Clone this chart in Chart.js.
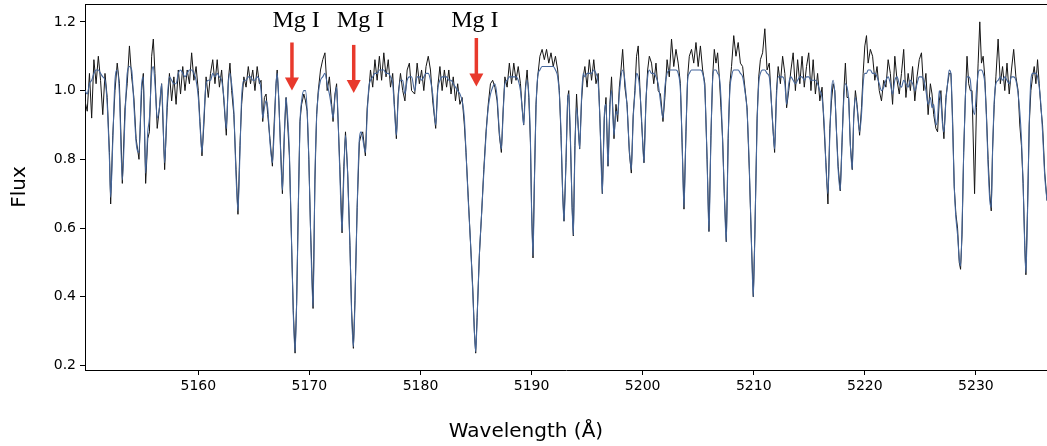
<!DOCTYPE html>
<html>
<head>
<meta charset="utf-8">
<script src="https://cdn.jsdelivr.net/npm/chart.js@4.4.1/dist/chart.umd.min.js"></script>
<style>
    html, body { margin: 0; padding: 0; background: #ffffff; }
    canvas { display: block; }
</style>
</head>
<body>
<canvas id="spectrumChart" width="1047" height="446"></canvas>
<script>
// wavelength samples (Å)
const wavelength = [
    5149.8, 5150.0, 5150.2, 5150.4, 5150.6, 5150.8, 5151.0, 5151.2, 5151.4, 5151.6,
    5151.8, 5152.0, 5152.11, 5152.3, 5152.5, 5152.7, 5152.9, 5153.16, 5153.4, 5153.6,
    5153.8, 5154.0, 5154.2, 5154.4, 5154.66, 5154.9, 5155.05, 5155.26, 5155.45, 5155.6,
    5155.8, 5155.95, 5156.1, 5156.3, 5156.5, 5156.7, 5156.97, 5157.2, 5157.4, 5157.6,
    5157.8, 5158.0, 5158.2, 5158.4, 5158.6, 5158.8, 5159.0, 5159.2, 5159.4, 5159.6,
    5159.8, 5160.0, 5160.15, 5160.33, 5160.5, 5160.7, 5160.9, 5161.1, 5161.3, 5161.5,
    5161.7, 5161.9, 5162.1, 5162.3, 5162.52, 5162.7, 5162.85, 5163.0, 5163.2, 5163.4,
    5163.57, 5163.75, 5163.9, 5164.1, 5164.3, 5164.5, 5164.7, 5164.9, 5165.1, 5165.3,
    5165.5, 5165.65, 5165.8, 5165.95, 5166.1, 5166.25, 5166.45, 5166.67, 5166.85, 5167.0,
    5167.1, 5167.25, 5167.4, 5167.57, 5167.75, 5167.9, 5168.05, 5168.2, 5168.4, 5168.55,
    5168.71, 5168.85, 5169.0, 5169.15, 5169.3, 5169.5, 5169.65, 5169.8, 5169.95, 5170.1,
    5170.33, 5170.5, 5170.65, 5170.8, 5171.0, 5171.2, 5171.4, 5171.6, 5171.8, 5172.0,
    5172.13, 5172.3, 5172.45, 5172.6, 5172.75, 5172.94, 5173.1, 5173.25, 5173.45, 5173.65,
    5173.8, 5173.96, 5174.1, 5174.3, 5174.5, 5174.65, 5174.8, 5175.04, 5175.2, 5175.35,
    5175.5, 5175.7, 5175.9, 5176.1, 5176.3, 5176.5, 5176.7, 5176.9, 5177.1, 5177.3,
    5177.5, 5177.65, 5177.83, 5178.0, 5178.2, 5178.4, 5178.6, 5178.8, 5179.0, 5179.2,
    5179.48, 5179.7, 5179.9, 5180.1, 5180.3, 5180.5, 5180.7, 5180.9, 5181.1, 5181.37,
    5181.55, 5181.75, 5181.95, 5182.15, 5182.35, 5182.55, 5182.75, 5182.95, 5183.15, 5183.35,
    5183.55, 5183.75, 5183.95, 5184.1, 5184.3, 5184.5, 5184.7, 5184.85, 5184.97, 5185.1,
    5185.3, 5185.5, 5185.7, 5185.9, 5186.1, 5186.3, 5186.5, 5186.7, 5186.9, 5187.1,
    5187.28, 5187.45, 5187.6, 5187.8, 5188.0, 5188.2, 5188.4, 5188.6, 5188.8, 5189.0,
    5189.15, 5189.29, 5189.45, 5189.6, 5189.75, 5189.9, 5190.0, 5190.13, 5190.25, 5190.4,
    5190.55, 5190.75, 5190.95, 5191.15, 5191.35, 5191.55, 5191.75, 5191.95, 5192.15, 5192.35,
    5192.5, 5192.65, 5192.8, 5192.92, 5193.1, 5193.25, 5193.35, 5193.5, 5193.65, 5193.76,
    5193.9, 5194.05, 5194.2, 5194.33, 5194.5, 5194.65, 5194.8, 5195.0, 5195.2, 5195.4,
    5195.6, 5195.8, 5196.0, 5196.15, 5196.37, 5196.55, 5196.7, 5196.88, 5197.05, 5197.2,
    5197.42, 5197.6, 5197.75, 5197.9, 5198.05, 5198.2, 5198.4, 5198.6, 5198.8, 5198.98,
    5199.15, 5199.3, 5199.45, 5199.6, 5199.75, 5199.9, 5200.12, 5200.3, 5200.45, 5200.6,
    5200.8, 5201.0, 5201.2, 5201.4, 5201.6, 5201.83, 5202.0, 5202.2, 5202.4, 5202.6,
    5202.8, 5203.0, 5203.2, 5203.4, 5203.55, 5203.72, 5203.9, 5204.05, 5204.2, 5204.4,
    5204.6, 5204.8, 5205.0, 5205.2, 5205.4, 5205.6, 5205.8, 5205.97, 5206.15, 5206.3,
    5206.45, 5206.6, 5206.75, 5206.9, 5207.05, 5207.2, 5207.35, 5207.53, 5207.7, 5207.85,
    5208.0, 5208.2, 5208.4, 5208.6, 5208.8, 5209.0, 5209.2, 5209.4, 5209.6, 5209.8,
    5209.96, 5210.1, 5210.3, 5210.45, 5210.6, 5210.8, 5211.0, 5211.2, 5211.4, 5211.6,
    5211.75, 5211.88, 5212.05, 5212.2, 5212.4, 5212.6, 5212.8, 5212.96, 5213.15, 5213.35,
    5213.55, 5213.75, 5213.95, 5214.15, 5214.35, 5214.55, 5214.75, 5214.95, 5215.15, 5215.35,
    5215.55, 5215.75, 5215.95, 5216.15, 5216.35, 5216.5, 5216.68, 5216.85, 5217.0, 5217.15,
    5217.3, 5217.45, 5217.6, 5217.79, 5217.95, 5218.1, 5218.25, 5218.4, 5218.55, 5218.7,
    5218.87, 5219.0, 5219.15, 5219.3, 5219.53, 5219.7, 5219.85, 5220.0, 5220.15, 5220.3,
    5220.5, 5220.7, 5220.9, 5221.1, 5221.3, 5221.5, 5221.7, 5221.9, 5222.1, 5222.3,
    5222.5, 5222.7, 5222.9, 5223.1, 5223.3, 5223.5, 5223.7, 5223.9, 5224.1, 5224.3,
    5224.5, 5224.7, 5224.9, 5225.1, 5225.3, 5225.5, 5225.7, 5225.9, 5226.05, 5226.2,
    5226.4, 5226.55, 5226.7, 5226.85, 5227.0, 5227.12, 5227.3, 5227.45, 5227.6, 5227.75,
    5227.9, 5228.05, 5228.2, 5228.35, 5228.5, 5228.62, 5228.75, 5228.9, 5229.05, 5229.2,
    5229.35, 5229.5, 5229.65, 5229.88, 5230.05, 5230.2, 5230.35, 5230.5, 5230.65, 5230.8,
    5230.95, 5231.1, 5231.25, 5231.38, 5231.5, 5231.65, 5231.8, 5232.0, 5232.2, 5232.4,
    5232.6, 5232.8, 5233.0, 5233.2, 5233.4, 5233.6, 5233.8, 5233.95, 5234.1, 5234.25,
    5234.4, 5234.5, 5234.65, 5234.8, 5234.95, 5235.1, 5235.25, 5235.4, 5235.55, 5235.7,
    5235.85, 5236.0, 5236.2, 5236.4
];

// fitted model (blue)
const fluxModel = [
    1.00, 0.99, 1.02, 1.03, 1.05, 1.06, 1.06, 1.05, 1.04, 1.03,
    0.96, 0.80, 0.69, 0.85, 1.03, 1.06, 0.99, 0.74, 0.92, 1.05,
    1.07, 1.06, 0.96, 0.85, 0.82, 1.02, 1.04, 0.76, 0.88, 0.92,
    1.05, 1.07, 1.02, 0.92, 0.95, 1.02, 0.79, 0.97, 1.04, 1.03,
    1.02, 1.02, 1.05, 1.06, 1.05, 1.04, 1.05, 1.06, 1.06, 1.05,
    1.03, 0.98, 0.90, 0.82, 0.92, 1.02, 1.03, 1.03, 1.05, 1.04,
    1.05, 1.04, 1.03, 0.98, 0.89, 1.02, 1.05, 1.02, 0.94, 0.75,
    0.65, 0.82, 0.98, 1.03, 1.03, 1.04, 1.04, 1.03, 1.03, 1.04,
    1.03, 1.00, 0.92, 0.95, 0.97, 0.95, 0.85, 0.79, 0.90, 1.02,
    1.05, 0.97, 0.83, 0.71, 0.87, 0.98, 0.92, 0.82, 0.55, 0.35,
    0.24, 0.38, 0.65, 0.90, 0.97, 1.00, 1.00, 0.94, 0.80, 0.60,
    0.37, 0.75, 0.92, 0.99, 1.03, 1.04, 1.05, 1.02, 0.99, 0.95,
    0.92, 0.98, 1.01, 0.90, 0.75, 0.59, 0.75, 0.87, 0.75, 0.55,
    0.35, 0.255, 0.38, 0.66, 0.86, 0.88, 0.86, 0.82, 0.93, 1.01,
    1.03, 1.04, 1.05, 1.05, 1.06, 1.06, 1.06, 1.05, 1.05, 1.04,
    1.02, 0.95, 0.87, 0.98, 1.03, 1.03, 0.99, 1.03, 1.04, 1.04,
    1.00, 1.04, 1.04, 1.03, 1.04, 1.05, 1.05, 1.03, 0.99, 0.90,
    1.00, 1.03, 1.04, 1.04, 1.04, 1.03, 1.03, 1.02, 1.01, 1.00,
    0.99, 0.97, 0.92, 0.82, 0.68, 0.56, 0.42, 0.30, 0.24, 0.34,
    0.52, 0.64, 0.76, 0.87, 0.95, 0.99, 1.01, 1.02, 0.98, 0.88,
    0.83, 0.94, 1.02, 1.03, 1.04, 1.04, 1.04, 1.04, 1.03, 1.00,
    0.95, 0.90, 1.00, 1.03, 0.99, 0.85, 0.65, 0.52, 0.72, 0.95,
    1.04, 1.06, 1.07, 1.07, 1.07, 1.07, 1.07, 1.07, 1.06, 1.04,
    0.99, 0.88, 0.70, 0.62, 0.80, 0.97, 0.99, 0.86, 0.66, 0.58,
    0.82, 0.95, 0.90, 0.83, 0.98, 1.05, 1.04, 1.05, 1.05, 1.05,
    1.06, 1.05, 1.02, 0.92, 0.70, 0.93, 0.96, 0.78, 0.95, 1.00,
    0.87, 0.94, 0.93, 0.99, 1.04, 1.06, 1.03, 0.95, 0.83, 0.77,
    0.92, 0.99, 1.05, 1.04, 1.00, 0.92, 0.79, 0.97, 1.04, 1.06,
    1.05, 1.05, 1.04, 1.02, 0.97, 0.92, 1.01, 1.05, 1.06, 1.06,
    1.06, 1.06, 1.05, 1.00, 0.85, 0.66, 0.88, 1.03, 1.05, 1.06,
    1.06, 1.06, 1.06, 1.06, 1.05, 1.00, 0.80, 0.59, 0.87, 1.03,
    1.06, 1.06, 1.05, 1.04, 0.98, 0.85, 0.70, 0.56, 0.86, 1.00,
    1.04, 1.06, 1.06, 1.06, 1.05, 1.04, 1.00, 0.94, 0.78, 0.55,
    0.40, 0.58, 0.90, 1.02, 1.05, 1.06, 1.06, 1.05, 1.04, 0.96,
    0.88, 0.83, 0.98, 1.04, 1.04, 1.04, 1.02, 0.96, 1.02, 1.04,
    1.03, 1.02, 1.03, 1.04, 1.04, 1.03, 1.04, 1.04, 1.03, 1.03,
    1.03, 1.02, 1.00, 0.98, 0.90, 0.78, 0.70, 0.87, 1.00, 1.03,
    0.99, 0.88, 0.77, 0.71, 0.85, 0.97, 1.02, 1.01, 0.97, 0.84,
    0.77, 0.92, 0.98, 0.95, 0.88, 0.93, 1.02, 1.05, 1.05, 1.06,
    1.06, 1.05, 1.05, 1.04, 1.02, 1.00, 1.01, 1.03, 1.04, 1.02,
    0.99, 1.03, 1.04, 1.02, 1.01, 1.03, 1.02, 1.01, 1.03, 1.02,
    1.00, 1.02, 1.04, 1.04, 1.03, 1.00, 0.96, 0.98, 0.95, 0.96,
    0.90, 0.92, 1.00, 0.97, 0.90, 0.88, 0.97, 1.02, 1.06, 1.05,
    0.90, 0.72, 0.63, 0.58, 0.51, 0.49, 0.60, 0.82, 0.98, 1.04,
    1.04, 1.03, 0.97, 0.93, 1.00, 1.05, 1.06, 1.06, 1.05, 1.02,
    0.92, 0.78, 0.68, 0.66, 0.82, 0.97, 1.02, 1.03, 1.04, 1.03,
    1.04, 1.03, 1.02, 1.04, 1.04, 1.03, 0.99, 0.94, 0.86, 0.73,
    0.54, 0.47, 0.65, 0.90, 1.03, 1.05, 1.05, 1.05, 1.04, 1.01,
    0.96, 0.88, 0.75, 0.68
];

// observed spectrum (black)
const fluxObserved = [
    0.97, 0.94, 1.05, 0.92, 1.09, 1.02, 1.10, 1.03, 0.93, 1.05,
    0.98, 0.82, 0.67, 0.87, 1.00, 1.08, 1.02, 0.73, 0.95, 1.02,
    1.13, 1.04, 0.98, 0.86, 0.80, 1.00, 1.05, 0.73, 0.86, 0.88,
    1.10, 1.15, 1.05, 0.89, 0.95, 1.02, 0.77, 0.95, 1.05, 0.97,
    1.04, 0.96, 1.06, 0.99, 1.07, 1.00, 1.06, 1.02, 1.11, 1.03,
    1.07, 1.00, 0.91, 0.81, 0.90, 1.04, 0.98, 1.05, 1.09, 1.02,
    1.09, 1.01, 1.06, 0.97, 0.87, 1.03, 1.08, 1.00, 0.93, 0.77,
    0.64, 0.84, 0.96, 1.04, 1.01, 1.07, 1.02, 1.06, 1.00, 1.07,
    1.02, 1.03, 0.91, 0.98, 0.99, 0.93, 0.86, 0.78, 0.92, 1.02,
    1.06, 0.97, 0.84, 0.70, 0.88, 0.98, 0.90, 0.81, 0.55, 0.36,
    0.236, 0.38, 0.66, 0.91, 0.96, 0.99, 0.97, 0.94, 0.80, 0.60,
    0.366, 0.74, 0.93, 1.00, 1.06, 1.09, 1.11, 1.00, 1.04, 0.96,
    0.91, 0.99, 1.02, 0.90, 0.77, 0.586, 0.78, 0.88, 0.76, 0.55,
    0.36, 0.25, 0.39, 0.66, 0.85, 0.87, 0.88, 0.81, 0.95, 1.00,
    1.06, 1.01, 1.09, 1.03, 1.10, 1.03, 1.11, 1.04, 1.09, 1.01,
    1.05, 0.96, 0.86, 0.99, 1.05, 1.00, 0.97, 1.06, 1.08, 1.00,
    0.99, 1.08, 1.02, 1.06, 1.00, 1.07, 1.10, 1.06, 0.97, 0.89,
    1.01, 1.07, 1.00, 1.06, 1.01, 1.06, 0.99, 1.04, 0.97, 1.02,
    0.96, 0.98, 0.90, 0.82, 0.69, 0.56, 0.43, 0.30, 0.236, 0.34,
    0.52, 0.64, 0.77, 0.88, 0.96, 1.02, 1.03, 1.01, 0.97, 0.87,
    0.82, 0.95, 1.04, 1.01, 1.08, 1.02, 1.08, 1.03, 1.07, 1.02,
    0.95, 0.90, 1.01, 1.06, 0.98, 0.85, 0.66, 0.513, 0.73, 0.96,
    1.04, 1.10, 1.12, 1.09, 1.12, 1.08, 1.11, 1.07, 1.10, 1.06,
    1.00, 0.87, 0.70, 0.62, 0.79, 0.98, 1.00, 0.85, 0.66, 0.577,
    0.84, 0.99, 0.89, 0.83, 0.97, 1.04, 1.07, 1.01, 1.09, 1.03,
    1.09, 1.02, 1.05, 0.92, 0.70, 0.92, 0.98, 0.78, 0.96, 1.04,
    0.86, 0.96, 0.91, 1.01, 1.06, 1.12, 1.01, 0.96, 0.82, 0.76,
    0.93, 1.00, 1.10, 1.13, 1.01, 0.91, 0.79, 0.97, 1.06, 1.10,
    1.08, 1.02, 1.08, 1.00, 0.99, 0.91, 0.98, 1.09, 1.04, 1.15,
    1.07, 1.12, 1.08, 1.02, 0.85, 0.655, 0.88, 1.04, 1.10, 1.12,
    1.08, 1.14, 1.07, 1.13, 1.06, 1.02, 0.80, 0.59, 0.87, 1.04,
    1.12, 1.08, 1.11, 1.04, 0.95, 0.86, 0.70, 0.56, 0.86, 1.02,
    1.07, 1.16, 1.10, 1.14, 1.08, 1.07, 1.01, 0.95, 0.77, 0.55,
    0.40, 0.58, 0.92, 1.04, 1.09, 1.11, 1.18, 1.06, 1.08, 0.96,
    0.88, 0.82, 1.00, 1.07, 1.02, 1.10, 1.05, 0.95, 1.00, 1.06,
    1.11, 1.00, 1.09, 1.02, 1.10, 1.01, 1.07, 1.11, 1.00, 1.09,
    0.99, 1.05, 0.97, 1.01, 0.88, 0.79, 0.67, 0.89, 0.97, 1.02,
    1.00, 0.88, 0.78, 0.708, 0.85, 0.99, 1.08, 0.98, 0.98, 0.84,
    0.77, 0.92, 1.00, 0.96, 0.87, 0.95, 1.05, 1.13, 1.16, 1.08,
    1.12, 1.10, 1.03, 1.07, 1.00, 0.97, 1.03, 1.01, 1.09, 1.05,
    0.96, 1.10, 1.03, 0.99, 1.05, 1.12, 0.98, 1.05, 1.00, 1.07,
    0.97, 1.04, 1.09, 1.11, 1.00, 1.05, 0.93, 1.02, 0.99, 0.93,
    0.89, 0.88, 0.97, 1.00, 0.91, 0.86, 0.98, 1.02, 1.05, 1.05,
    0.92, 0.72, 0.64, 0.60, 0.50, 0.48, 0.58, 0.82, 0.98, 1.10,
    1.02, 1.00, 1.00, 0.70, 0.95, 1.08, 1.20, 1.08, 1.10, 1.04,
    0.93, 0.80, 0.70, 0.65, 0.83, 0.96, 1.04, 1.15, 1.02, 1.07,
    1.00, 1.08, 0.99, 1.06, 1.12, 1.04, 1.00, 0.90, 0.84, 0.73,
    0.55, 0.464, 0.66, 0.90, 1.00, 1.04, 1.07, 1.02, 1.09, 1.02,
    0.95, 0.90, 0.76, 0.68
];

const xTicks = [5160, 5170, 5180, 5190, 5200, 5210, 5220, 5230];
const yTicks = [0.2, 0.4, 0.6, 0.8, 1.0, 1.2];

// Mg I annotations: label anchor, arrow tail and arrow tip (data units)
const mgLabels = ["Mg I", "Mg I", "Mg I"];
const mgLabelWave = [5168.8, 5174.6, 5184.9];
const mgLabelFlux = [1.184, 1.184, 1.184];
const mgArrowWave = [5168.43, 5173.99, 5185.03];
const mgArrowTail = [1.140, 1.133, 1.153];
const mgArrowTip = [1.000, 0.993, 1.012];

if (wavelength.length !== fluxModel.length || wavelength.length !== fluxObserved.length) {
    console.error("length mismatch", wavelength.length, fluxModel.length, fluxObserved.length);
}

const toPoints = (ys) => wavelength.map((w, i) => ({ x: w, y: ys[i] }));

const frameAndLabels = {
    id: "frameAndLabels",
    afterDatasetsDraw(chart) {
        const { ctx, chartArea, scales } = chart;
        const x = scales.x;
        const y = scales.y;
        ctx.save();

        // top spine
        ctx.strokeStyle = "#000";
        ctx.lineWidth = 1;
        ctx.beginPath();
        ctx.moveTo(chartArea.left, chartArea.top + 0.5);
        ctx.lineTo(chartArea.right, chartArea.top + 0.5);
        ctx.stroke();

        // Mg I labels
        ctx.fillStyle = "#000";
        ctx.font = '24px "Liberation Serif", "Times New Roman", serif';
        ctx.textAlign = "center";
        ctx.textBaseline = "alphabetic";
        mgLabels.forEach((text, i) => {
            ctx.fillText(text, x.getPixelForValue(mgLabelWave[i]), y.getPixelForValue(mgLabelFlux[i]));
        });

        // red arrows
        ctx.fillStyle = "#e8392c";
        ctx.strokeStyle = "#e8392c";
        const headLen = 13;
        const headHalf = 7;
        mgArrowWave.forEach((w, i) => {
            const px = x.getPixelForValue(w);
            const top = y.getPixelForValue(mgArrowTail[i]);
            const tip = y.getPixelForValue(mgArrowTip[i]);
            ctx.lineWidth = 3.5;
            ctx.beginPath();
            ctx.moveTo(px, top);
            ctx.lineTo(px, tip - headLen + 1);
            ctx.stroke();
            ctx.beginPath();
            ctx.moveTo(px - headHalf, tip - headLen);
            ctx.lineTo(px + headHalf, tip - headLen);
            ctx.lineTo(px, tip);
            ctx.closePath();
            ctx.fill();
        });

        // x axis title
        ctx.fillStyle = "#000";
        ctx.font = '20px "DejaVu Sans"';
        ctx.textBaseline = "middle";
        ctx.fillText("Wavelength (Å)", 526, 432);

        ctx.restore();
    }
};

const tickFont = { family: "DejaVu Sans", size: 14 };

new Chart(document.getElementById("spectrumChart"), {
    type: "line",
    data: {
        datasets: [
            {
                label: "Model",
                data: toPoints(fluxModel),
                borderColor: "#46679c",
                borderWidth: 1.1,
                pointRadius: 0,
                cubicInterpolationMode: "monotone",
                order: 0
            },
            {
                label: "Observed",
                data: toPoints(fluxObserved),
                borderColor: "#151515",
                borderWidth: 1,
                pointRadius: 0,
                tension: 0,
                order: 1
            }
        ]
    },
    options: {
        responsive: false,
        animation: false,
        devicePixelRatio: 1,
        layout: { padding: { top: 4, right: 0, bottom: 0, left: 0 } },
        plugins: {
            legend: { display: false },
            tooltip: { enabled: false }
        },
        scales: {
            x: {
                type: "linear",
                min: 5149.8,
                max: 5236.4,
                afterBuildTicks: (scale) => { scale.ticks = xTicks.map((v) => ({ value: v })); },
                afterFit: (scale) => {
                    scale.height = 76;
                    scale.paddingLeft = 0;
                    scale.paddingRight = 0;
                },
                ticks: {
                    color: "#000",
                    font: tickFont,
                    padding: 3,
                    maxRotation: 0,
                    callback: (v) => String(v)
                },
                grid: { drawOnChartArea: false, drawTicks: true, tickLength: 5, color: "#000" },
                border: { display: true, color: "#000", width: 1 }
            },
            y: {
                type: "linear",
                min: 0.187,
                max: 1.252,
                afterBuildTicks: (scale) => { scale.ticks = yTicks.map((v) => ({ value: v })); },
                afterFit: (scale) => {
                    scale.width = 85;
                    scale.paddingTop = 0;
                    scale.paddingBottom = 0;
                },
                ticks: {
                    color: "#000",
                    font: tickFont,
                    padding: 4,
                    callback: (v) => v.toFixed(1)
                },
                title: {
                    display: true,
                    text: "Flux",
                    color: "#000",
                    font: { family: "DejaVu Sans", size: 20 },
                    padding: { top: 8, bottom: 0 }
                },
                grid: { drawOnChartArea: false, drawTicks: true, tickLength: 5, color: "#000" },
                border: { display: true, color: "#000", width: 1 }
            }
        }
    },
    plugins: [frameAndLabels]
});
</script>
</body>
</html>
